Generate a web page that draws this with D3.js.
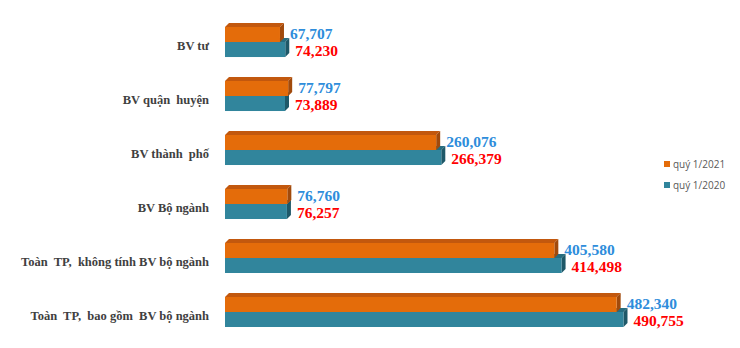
<!DOCTYPE html>
<html>
<head>
<meta charset="utf-8">
<script src="https://cdn.jsdelivr.net/npm/d3@7"></script>
<style>
  html, body { margin: 0; padding: 0; background: #ffffff; }
  svg { display: block; }
</style>
</head>
<body>
<svg id="chart" width="740" height="348"></svg>
<script>
// Hospital categories, top to bottom
const categories = [
  "BV tư",
  "BV quận  huyện",
  "BV thành  phố",
  "BV Bộ ngành",
  "Toàn  TP,  không tính BV bộ ngành",
  "Toàn  TP,  bao gồm  BV bộ ngành"
];
const seriesNames = ["quý 1/2021", "quý 1/2020"];
const values2021 = [67707, 77797, 260076, 76760, 405580, 482340];
const values2020 = [74230, 73889, 266379, 76257, 414498, 490755];

const svg = d3.select("#chart");

const x = d3.scaleLinear().domain([0, 500000]).range([225, 631]);
const y0 = d3.scaleBand().domain(categories).range([27, 327]).paddingInner(0.444);
const y1 = d3.scaleBand().domain(seriesNames).range([0, y0.bandwidth()]);

// palette: front face, top face, side face, value label, label nudge
const styles = {
  "quý 1/2021": { front: "#e46c0a", top: "#c2580e", side: "#a14a0c", label: "#2e8ddb", nudge: -1 },
  "quý 1/2020": { front: "#31859c", top: "#276d80", side: "#1e5868", label: "#ff0000", nudge: 1 }
};
const depth = 4;

const rows = categories.map((c, i) => ({
  cat: c,
  bars: [
    { s: "quý 1/2020", v: values2020[i] },
    { s: "quý 1/2021", v: values2021[i] }
  ]
}));

// 3-D bars: teal drawn first so the orange bar sits over its top face
const g = svg.append("g");
rows.forEach(r => {
  r.bars.forEach(b => {
    const st = styles[b.s];
    const xa = x(0), xb = x(b.v);
    const ya = y0(r.cat) + y1(b.s), yb = ya + y1.bandwidth();
    const bar = g.append("g");
    bar.append("path")
      .attr("d", `M${xa},${ya}L${xa + depth},${ya - depth}L${xb + depth},${ya - depth}L${xb},${ya}Z`)
      .attr("fill", st.top);
    bar.append("path")
      .attr("d", `M${xb},${ya}L${xb + depth},${ya - depth}L${xb + depth},${yb - depth}L${xb},${yb}Z`)
      .attr("fill", st.side);
    bar.append("rect")
      .attr("x", xa).attr("y", ya)
      .attr("width", xb - xa).attr("height", yb - ya)
      .attr("fill", st.front);
  });
});

// value labels
rows.forEach(r => {
  r.bars.forEach(b => {
    const st = styles[b.s];
    svg.append("text")
      .attr("x", x(b.v) + 10)
      .attr("y", y0(r.cat) + y1(b.s) + y1.bandwidth() / 2 + st.nudge)
      .attr("dy", "0.36em")
      .attr("font-family", "'Liberation Serif', 'Times New Roman', serif")
      .attr("font-weight", "bold")
      .attr("font-size", 15.5)
      .attr("fill", st.label)
      .text(d3.format(",")(b.v));
  });
});

// category labels
svg.append("g").selectAll("text")
  .data(categories)
  .join("text")
  .attr("x", 209)
  .attr("y", d => y0(d) + y0.bandwidth() / 2 + 3.5)
  .attr("dy", "0.35em")
  .attr("text-anchor", "end")
  .attr("font-family", "'Liberation Serif', 'Times New Roman', serif")
  .attr("font-weight", "bold")
  .attr("font-size", 12.5)
  .attr("fill", "#404040")
  .style("white-space", "pre")
  .text(d => d);

// legend
const legend = svg.append("g").attr("transform", "translate(664,161)");
seriesNames.forEach((s, i) => {
  const lg = legend.append("g").attr("transform", `translate(0,${i * 21})`);
  lg.append("rect").attr("width", 6).attr("height", 6).attr("fill", styles[s].front);
  lg.append("text")
    .attr("x", 9).attr("y", 3).attr("dy", "0.35em")
    .attr("font-family", "'Open Sans', 'Noto Sans', sans-serif")
    .attr("font-size", 10)
    .attr("fill", "#595959")
    .text(s);
});
</script>
</body>
</html>
